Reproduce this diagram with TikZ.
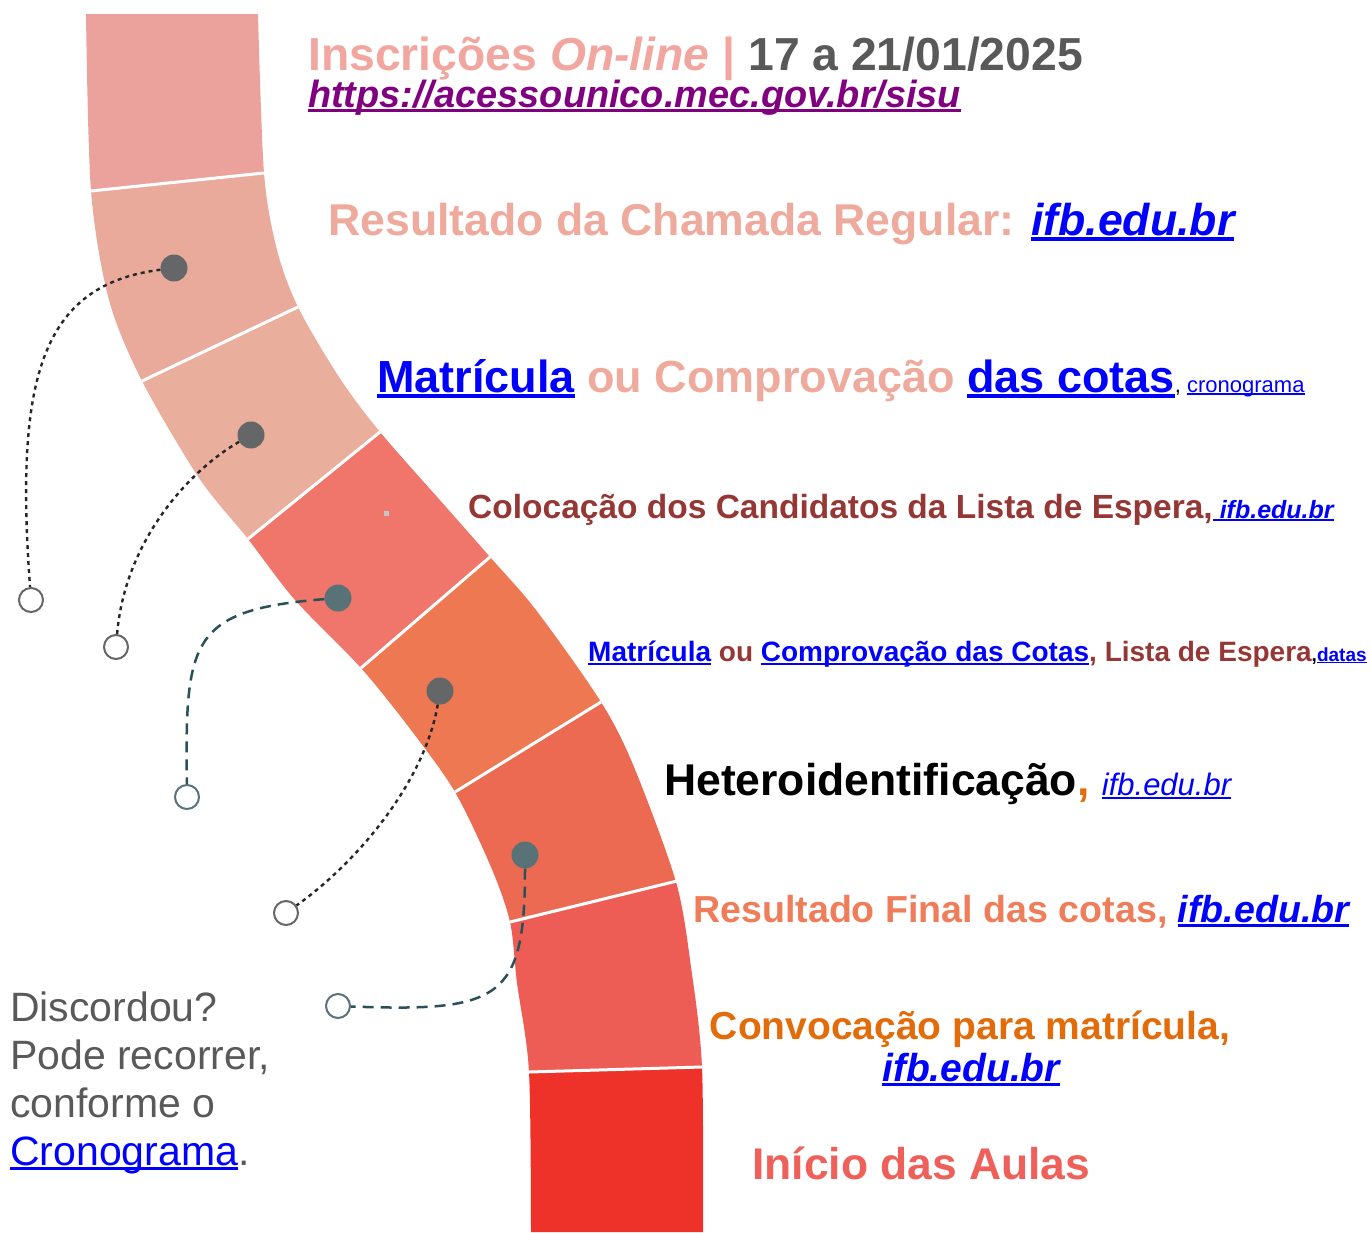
\documentclass[tikz,border=0pt]{standalone}
\usepackage{fontspec}
\setmainfont{Liberation Sans}
\usetikzlibrary{calc}
\usetikzlibrary{positioning}

\definecolor{segA}{HTML}{EBA29C}
\definecolor{segB}{HTML}{E9AA9C}
\definecolor{segC}{HTML}{EAAE9D}
\definecolor{segD}{HTML}{F0756A}
\definecolor{segE}{HTML}{ED7852}
\definecolor{segF}{HTML}{EC6A52}
\definecolor{segG}{HTML}{EE5D55}
\definecolor{segH}{HTML}{EE3129}
\definecolor{dotgray}{HTML}{646668}
\definecolor{dotteal}{HTML}{587278}
\definecolor{tealline}{HTML}{2A5058}
\definecolor{tpink}{HTML}{F2A6A0}
\definecolor{tpink2}{HTML}{EEAA9C}
\definecolor{tgray}{HTML}{595959}
\definecolor{tpurple}{HTML}{800080}
\definecolor{linkblue}{HTML}{0000FF}
\definecolor{tred}{HTML}{953735}
\definecolor{torange}{HTML}{E36C0A}
\definecolor{tsalmon}{HTML}{F07D5A}
\definecolor{tred2}{HTML}{F0605A}

\newsavebox\ulbox
\newcommand{\ulk}[1]{\sbox\ulbox{#1}\rlap{\rule[-0.13em]{\wd\ulbox}{0.075em}}\usebox\ulbox}
\newcommand{\fs}[1]{\fontsize{#1}{#1}\selectfont}

\begin{document}
\begin{tikzpicture}[x=1pt, y=-1pt,
  stopdot/.style={circle, inner sep=0pt, minimum size=27pt},
  stopring/.style={circle, draw, line width=2pt, fill=white, inner sep=0pt, minimum size=24pt},
  dotline/.style={line width=2.4pt, dash pattern=on 4pt off 4pt, draw=black!85},
  dashline/.style={line width=2.5pt, dash pattern=on 11pt off 7pt, draw=tealline},
  lbl/.style={anchor=base west, inner sep=0pt}]
\useasboundingbox (0,0) rectangle (1371,1232);

% road
\coordinate (L0) at (86,14);   \coordinate (R0) at (258,14);
\coordinate (L1) at (91,191);  \coordinate (R1) at (264,173);
\coordinate (L2) at (142,381); \coordinate (R2) at (298,307);
\coordinate (L3) at (248,539); \coordinate (R3) at (380,432);
\coordinate (L4) at (361,668); \coordinate (R4) at (490,557);
\coordinate (L5) at (455,792); \coordinate (R5) at (601,702);
\coordinate (L6) at (510,922); \coordinate (R6) at (677,881);
\coordinate (L7) at (529,1072); \coordinate (R7) at (702,1067);
\coordinate (L8) at (531,1232); \coordinate (R8) at (703,1232);
\def\roadpath{plot[smooth] coordinates {(86,14) (91,191) (109,300) (142,381) (199,478) (248,539) (295,600) (361,668) (411,730) (455,792) (491,867) (510,922) (517,983) (529,1072) (531,1232)}
  -- plot[smooth] coordinates {(703,1232) (702,1067) (691,967) (676,882) (634,767) (601,702) (536,610) (490,557) (446,507) (380,432) (339,377) (298,307) (277,250) (264,173) (258,14)} -- cycle}
\foreach \k/\n/\col in {0/1/segA,1/2/segB,2/3/segC,3/4/segD,4/5/segE,5/6/segF,6/7/segG,7/8/segH}{
  \begin{scope}
    \clip ($(L\k)!-0.3!(R\k)$) -- ($(L\k)!1.3!(R\k)$) -- ($(L\n)!1.3!(R\n)$) -- ($(L\n)!-0.3!(R\n)$) -- cycle;
    \fill[\col] \roadpath;
  \end{scope}
}
\foreach \k in {1,...,7}
  \draw[white, line width=3pt] (L\k) -- (R\k);
\fill[gray!45] (384,511) rectangle (389,516);

% stops
\node[stopdot, fill=dotgray] (d1) at (174,268) {};
\node[stopdot, fill=dotgray] (d2) at (251,435) {};
\node[stopdot, fill=dotteal] (d3) at (338,598) {};
\node[stopdot, fill=dotgray] (d4) at (440,691) {};
\node[stopdot, fill=dotteal] (d5) at (525,855) {};
\node[stopring, draw=dotgray] (c1) at (31,600) {};
\node[stopring, draw=dotgray] (c2) at (116,647) {};
\node[stopring, draw=dotteal] (c3) at (187,797) {};
\node[stopring, draw=dotgray] (c4) at (286,913) {};
\node[stopring, draw=dotteal] (c5) at (338,1006) {};
\draw[dotline] (d1) .. controls (40,285) and (15,380) .. (c1);
\draw[dotline] (d2) .. controls (190,470) and (125,540) .. (c2);
\draw[dashline] (d3) .. controls (190,610) and (185,640) .. (c3);
\draw[dotline] (d4) .. controls (425,780) and (360,860) .. (c4);
\draw[dashline] (d5) .. controls (525,1000) and (500,1012) .. (c5);

% labels
\node[lbl] (insc) at (308,70) {\fs{46.3}\bfseries\color{tpink}Inscrições \itshape On-line\upshape\ | \color{tgray}17 a 21/01/2025};
\node[lbl] (sisu) at (308,107) {\fs{37.9}\bfseries\itshape\color{tpurple}\ulk{https://acessounico.mec.gov.br/sisu}};
\node[lbl] (chamada) at (328,235) {\fs{44.6}\bfseries\color{tpink2}Resultado da Chamada Regular: \itshape\color{linkblue}\ulk{ifb.edu.br}};
\node[lbl] (matric) at (377,392) {\fs{45}\bfseries\color{linkblue}\ulk{Matrícula} \color{tpink2}ou Comprovação \color{linkblue}\ulk{das cotas}\fs{22}\mdseries\color{black}, \color{linkblue}\ulk{cronograma}};
\node[lbl] (espera) at (468,518) {\fs{33.5}\bfseries\color{tred}Colocação dos Candidatos da Lista de Espera,\fs{25}\itshape\color{linkblue}\ulk{\ ifb.edu.br}};
\node[lbl] (matric2) at (588,661) {\fs{28}\bfseries\color{linkblue}\ulk{Matrícula} \color{tred}ou \color{linkblue}\ulk{Comprovação das Cotas}\color{tred}, Lista de Espera\fs{19}\color{black},\color{linkblue}\ulk{datas}};
\node[lbl] (hetero) at (664,795) {\fs{44.5}\bfseries Heteroidentificação\color{torange}, \fs{31}\mdseries\itshape\color{linkblue}\ulk{ifb.edu.br}};
\node[lbl] (final) at (693,922) {\fs{37.6}\bfseries\color{tsalmon}Resultado Final das cotas, \itshape\color{linkblue}\ulk{ifb.edu.br}};
\node[anchor=base, inner sep=0pt] (conv) at (970,1039) {\fs{39}\bfseries\color{torange}Convocação para matrícula,};
\node[anchor=base, inner sep=0pt] (convlink) at (971,1081) {\fs{39}\bfseries\itshape\color{linkblue}\ulk{ifb.edu.br}};
\node[lbl] (inicio) at (752,1179) {\fs{44.4}\bfseries\color{tred2}Início das Aulas};
\node[lbl] (disc1) at (10,1021) {\fs{41}\color{tgray}Discordou?};
\node[lbl] (disc2) at (10,1069) {\fs{41}\color{tgray}Pode recorrer,};
\node[lbl] (disc3) at (10,1117) {\fs{41}\color{tgray}conforme o};
\node[lbl] (disc4) at (10,1165) {\fs{41}\color{linkblue}\ulk{Cronograma}\color{tgray}.};
\end{tikzpicture}
\end{document}
